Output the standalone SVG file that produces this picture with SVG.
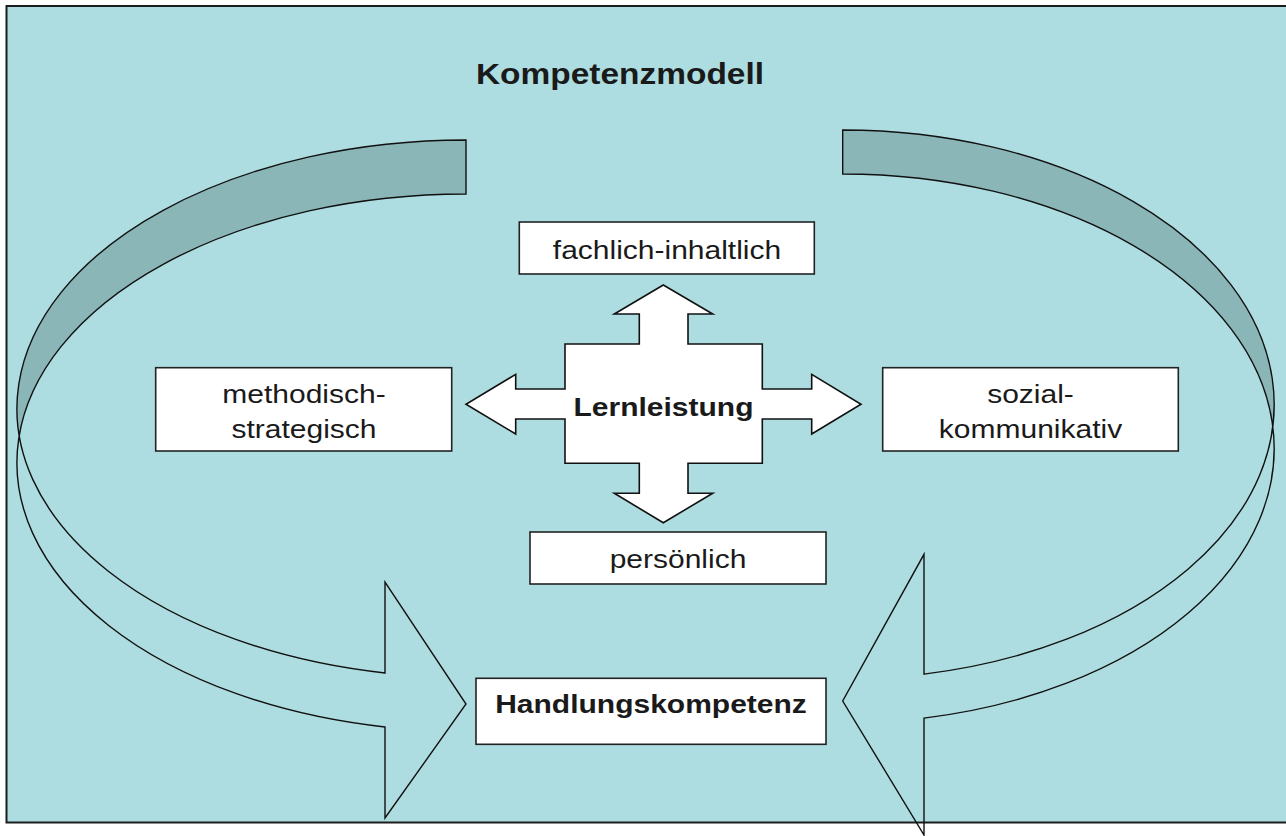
<svg xmlns="http://www.w3.org/2000/svg" width="1286" height="836" viewBox="0 0 1286 836">
  <style>
    .frame{fill:#addde0;stroke:#1c1c1c;stroke-width:2}
    .back{fill:#8bb6b8;stroke:none}
    .ribbon{fill:none;stroke:#111;stroke-width:1.4;stroke-linejoin:miter}
    .box{fill:#fff;stroke:#222;stroke-width:1.6}
    .cross{fill:#fff;stroke:#111;stroke-width:1.6;stroke-linejoin:miter}
    .t{font-family:"Liberation Sans",Arial,Helvetica,sans-serif;font-size:26px;fill:#1a1a1a;text-anchor:middle}
    .b{font-weight:bold}
  </style>

  <!-- page and slide frame -->
  <rect width="1286" height="836" fill="#fff"/>
  <rect class="frame" x="6.5" y="6" width="1300" height="816.5"/>

  <!-- title -->
  <g id="title">
    <text class="t b" style="font-size:29px" transform="translate(620,84) scale(1.154,1)">Kompetenzmodell</text>
  </g>

  <!-- curved return arrows -->
  <g id="connectors">
    <g id="arrow-left">
      <path class="back" d="M466,140 A449,268.7 0 0 0 19.27,435.7 A449,268.7 0 0 1 466,194 Z"/>
      <path class="ribbon" d="M466,140 A449,268.7 0 0 0 385,673 L385,582 L466,704 L385,818 L385,727 A449,268.7 0 0 1 466,194 Z"/>
    </g>
    <g id="arrow-right">
      <path class="back" d="M842.7,130 A431.3,274.5 0 0 1 1272.6,426.5 A431.3,274.5 0 0 0 842.7,174 Z"/>
      <path class="ribbon" d="M842.7,130 A431.3,274.5 0 0 1 924,674.1 L924,554.3 L842.7,701 L924,835 L924,718.1 A431.3,274.5 0 0 0 842.7,174 Z"/>
    </g>
  </g>

  <!-- central four-way arrow -->
  <g id="node-lernleistung">
    <path class="cross" d="M663.3,285 L712.7,314 L688,314 L688,344 L762.3,344 L762.3,389 L811.7,389 L811.7,374.3 L861,404.3 L811.7,434 L811.7,419 L762.3,419 L762.3,463.3 L688,463.3 L688,493.3 L712.7,493.3 L663.3,522.7 L614.3,493.3 L639.3,493.3 L639.3,463.3 L565,463.3 L565,419 L515.7,419 L515.7,434 L466,404.3 L515.7,374.3 L515.7,389 L565,389 L565,344 L639.3,344 L639.3,314 L614.3,314 Z"/>
    <text class="t b" transform="translate(663.5,415.7) scale(1.154,1)">Lernleistung</text>
  </g>

  <g id="node-fachlich">
    <rect class="box" x="519.3" y="222" width="295" height="52"/>
    <text class="t" transform="translate(667,259) scale(1.154,1)">fachlich-inhaltlich</text>
  </g>

  <g id="node-methodisch">
    <rect class="box" x="155.7" y="367.7" width="296" height="83.3"/>
    <text class="t" transform="translate(304,403) scale(1.154,1)">methodisch-</text>
    <text class="t" transform="translate(304,438) scale(1.154,1)">strategisch</text>
  </g>

  <g id="node-sozial">
    <rect class="box" x="882.7" y="367.7" width="295.6" height="83.3"/>
    <text class="t" transform="translate(1030.5,403) scale(1.154,1)">sozial-</text>
    <text class="t" transform="translate(1030.5,438) scale(1.154,1)">kommunikativ</text>
  </g>

  <g id="node-persoenlich">
    <rect class="box" x="530" y="532" width="296" height="52"/>
    <text class="t" transform="translate(678,568) scale(1.154,1)">persönlich</text>
  </g>

  <g id="node-handlung">
    <rect class="box" x="476" y="678.3" width="350" height="66"/>
    <text class="t b" transform="translate(651,713) scale(1.154,1)">Handlungskompetenz</text>
  </g>
</svg>
